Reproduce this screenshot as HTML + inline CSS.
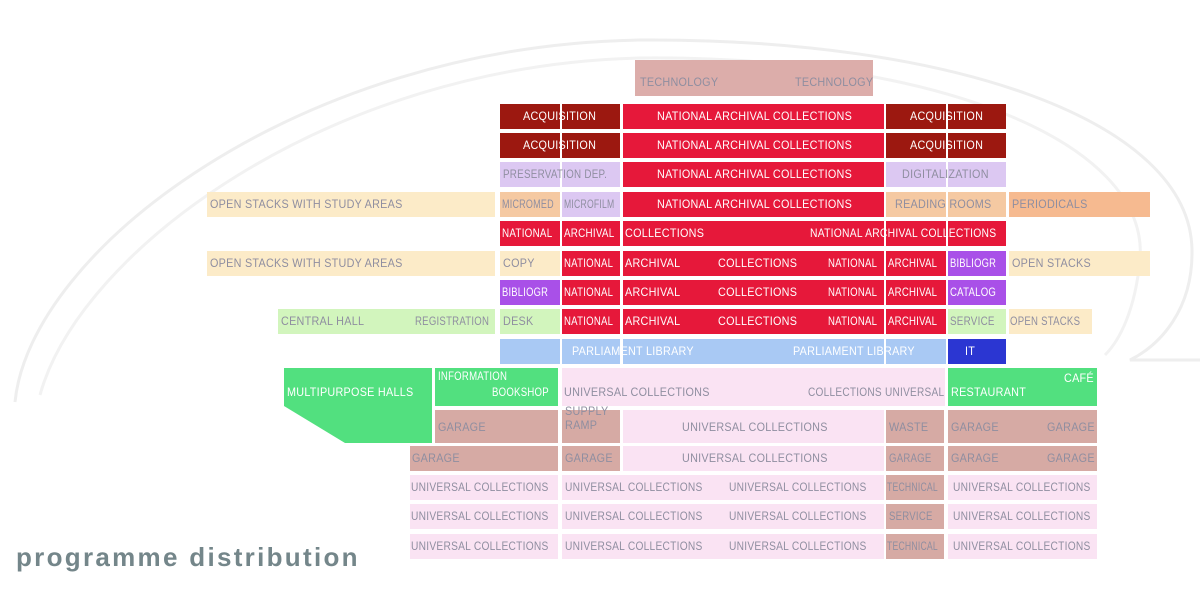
<!DOCTYPE html><html><head><meta charset="utf-8"><style>
body{margin:0;width:1200px;height:600px;background:#fff;position:relative;overflow:hidden;font-family:"Liberation Sans",sans-serif}
.b{position:absolute;height:25px}
.t{position:absolute;font-size:12px;line-height:25px;white-space:nowrap;color:#fff;transform:scaleX(0.9);transform-origin:left center;letter-spacing:0.3px}
.g{color:#8f8ea0}
.dr{background:#9c1810}.rd{background:#e6183a}.lv{background:#dcc8f2}.pc{background:#f5c9a2}.cr{background:#fcebc8}
.pu{background:#a950e8}.lg{background:#d2f5bd}.lb{background:#a9c9f4}.bl{background:#2b36d2}.gr{background:#52e07f}
.pk{background:#fae3f3}.ga{background:#d6aaa4}.or{background:#f6ba90}
</style></head><body>
<svg style="position:absolute;left:0;top:0" width="1200" height="600">
<path d="M15 402 C 30 250, 300 45, 640 40 C 950 38, 1190 120, 1192 250 C 1193 310, 1160 345, 1130 360 L1200 360" fill="none" stroke="#eeeeee" stroke-width="3"/>
<path d="M40 395 C 80 250, 330 65, 640 58 C 930 55, 1150 140, 1140 260 C 1135 310, 1120 340, 1105 355" fill="none" stroke="#f2f2f2" stroke-width="3"/>
<polygon points="284,368 432,368 432,443 345,443 284,406" fill="#52e07f"/>
</svg>
<div class="b" style="left:635px;top:60px;width:238px;height:36px;background:#dcadaa"></div>
<div class="t g" style="left:640px;top:70px">TECHNOLOGY</div><div class="t g" style="left:795px;top:70px">TECHNOLOGY</div>

<div class="b dr" style="left:500px;top:104px;width:60px"></div><div class="b dr" style="left:562px;top:104px;width:58px"></div>
<div class="b rd" style="left:623px;top:104px;width:261px"></div>
<div class="b dr" style="left:886px;top:104px;width:60px"></div><div class="b dr" style="left:948px;top:104px;width:58px"></div>
<div class="b dr" style="left:500px;top:133px;width:60px"></div><div class="b dr" style="left:562px;top:133px;width:58px"></div>
<div class="b rd" style="left:623px;top:133px;width:261px"></div>
<div class="b dr" style="left:886px;top:133px;width:60px"></div><div class="b dr" style="left:948px;top:133px;width:58px"></div>
<div class="t" style="left:523px;top:104px">ACQUISITION</div><div class="t" style="left:657px;top:104px">NATIONAL ARCHIVAL COLLECTIONS</div><div class="t" style="left:910px;top:104px">ACQUISITION</div>
<div class="t" style="left:523px;top:133px">ACQUISITION</div><div class="t" style="left:657px;top:133px">NATIONAL ARCHIVAL COLLECTIONS</div><div class="t" style="left:910px;top:133px">ACQUISITION</div>

<div class="b lv" style="left:500px;top:162px;width:60px"></div><div class="b lv" style="left:562px;top:162px;width:58px"></div>
<div class="b rd" style="left:623px;top:162px;width:261px"></div>
<div class="b lv" style="left:886px;top:162px;width:60px"></div><div class="b lv" style="left:948px;top:162px;width:58px"></div>
<div class="t g" style="left:503px;top:162px;transform:scaleX(0.82)">PRESERVATION DEP.</div><div class="t" style="left:657px;top:162px">NATIONAL ARCHIVAL COLLECTIONS</div><div class="t g" style="left:902px;top:162px">DIGITALIZATION</div>

<div class="b cr" style="left:207px;top:192px;width:288px"></div>
<div class="b pc" style="left:500px;top:192px;width:60px"></div><div class="b lv" style="left:562px;top:192px;width:58px"></div>
<div class="b rd" style="left:623px;top:192px;width:261px"></div>
<div class="b pc" style="left:886px;top:192px;width:60px"></div><div class="b pc" style="left:948px;top:192px;width:58px"></div>
<div class="b or" style="left:1009px;top:192px;width:141px"></div>
<div class="t g" style="left:210px;top:192px">OPEN STACKS WITH STUDY AREAS</div><div class="t g" style="left:502px;top:192px;transform:scaleX(0.75)">MICROMED</div><div class="t g" style="left:564px;top:192px;transform:scaleX(0.72)">MICROFILM</div>
<div class="t" style="left:657px;top:192px">NATIONAL ARCHIVAL COLLECTIONS</div><div class="t g" style="left:895px;top:192px">READING ROOMS</div><div class="t g" style="left:1012px;top:192px">PERIODICALS</div>

<div class="b rd" style="left:500px;top:221px;width:60px"></div><div class="b rd" style="left:562px;top:221px;width:58px"></div>
<div class="b rd" style="left:623px;top:221px;width:261px"></div>
<div class="b rd" style="left:886px;top:221px;width:60px"></div><div class="b rd" style="left:948px;top:221px;width:58px"></div>
<div class="t" style="left:502px;top:221px;transform:scaleX(0.82)">NATIONAL</div><div class="t" style="left:564px;top:221px;transform:scaleX(0.82)">ARCHIVAL</div><div class="t" style="left:625px;top:221px">COLLECTIONS</div>
<div class="t" style="left:810px;top:221px;transform:scaleX(0.86)">NATIONAL ARCHIVAL COLLECTIONS</div>

<div class="b cr" style="left:207px;top:251px;width:288px"></div>
<div class="b cr" style="left:500px;top:251px;width:60px"></div>
<div class="b pu" style="left:500px;top:280px;width:60px"></div>
<div class="b lg" style="left:278px;top:309px;width:217px"></div>
<div class="b lg" style="left:500px;top:309px;width:60px"></div>
<div class="b rd" style="left:562px;top:251px;width:58px"></div><div class="b rd" style="left:623px;top:251px;width:261px"></div><div class="b rd" style="left:886px;top:251px;width:60px"></div>
<div class="b rd" style="left:562px;top:280px;width:58px"></div><div class="b rd" style="left:623px;top:280px;width:261px"></div><div class="b rd" style="left:886px;top:280px;width:60px"></div>
<div class="b rd" style="left:562px;top:309px;width:58px"></div><div class="b rd" style="left:623px;top:309px;width:261px"></div><div class="b rd" style="left:886px;top:309px;width:60px"></div>
<div class="b pu" style="left:948px;top:251px;width:58px"></div><div class="b pu" style="left:948px;top:280px;width:58px"></div><div class="b lg" style="left:948px;top:309px;width:58px"></div>
<div class="b cr" style="left:1009px;top:251px;width:141px"></div><div class="b cr" style="left:1009px;top:309px;width:83px"></div>
<div class="t g" style="left:210px;top:251px">OPEN STACKS WITH STUDY AREAS</div><div class="t g" style="left:503px;top:251px">COPY</div>
<div class="t" style="left:502px;top:280px;transform:scaleX(0.78)">BIBLIOGR</div>
<div class="t g" style="left:281px;top:309px">CENTRAL HALL</div><div class="t g" style="left:415px;top:309px;transform:scaleX(0.8)">REGISTRATION</div><div class="t g" style="left:503px;top:309px">DESK</div>
<div class="t" style="left:564px;top:251px;transform:scaleX(0.8)">NATIONAL</div><div class="t" style="left:625px;top:251px">ARCHIVAL</div><div class="t" style="left:718px;top:251px">COLLECTIONS</div><div class="t" style="left:828px;top:251px;transform:scaleX(0.8)">NATIONAL</div><div class="t" style="left:888px;top:251px;transform:scaleX(0.8)">ARCHIVAL</div>
<div class="t" style="left:564px;top:280px;transform:scaleX(0.8)">NATIONAL</div><div class="t" style="left:625px;top:280px">ARCHIVAL</div><div class="t" style="left:718px;top:280px">COLLECTIONS</div><div class="t" style="left:828px;top:280px;transform:scaleX(0.8)">NATIONAL</div><div class="t" style="left:888px;top:280px;transform:scaleX(0.8)">ARCHIVAL</div>
<div class="t" style="left:564px;top:309px;transform:scaleX(0.8)">NATIONAL</div><div class="t" style="left:625px;top:309px">ARCHIVAL</div><div class="t" style="left:718px;top:309px">COLLECTIONS</div><div class="t" style="left:828px;top:309px;transform:scaleX(0.8)">NATIONAL</div><div class="t" style="left:888px;top:309px;transform:scaleX(0.8)">ARCHIVAL</div>
<div class="t" style="left:950px;top:251px;transform:scaleX(0.78)">BIBLIOGR</div><div class="t" style="left:950px;top:280px;transform:scaleX(0.8)">CATALOG</div><div class="t g" style="left:950px;top:309px;transform:scaleX(0.82)">SERVICE</div>
<div class="t g" style="left:1012px;top:251px">OPEN STACKS</div><div class="t g" style="left:1010px;top:309px;transform:scaleX(0.8)">OPEN STACKS</div>

<div class="b lb" style="left:500px;top:339px;width:60px"></div><div class="b lb" style="left:562px;top:339px;width:58px"></div>
<div class="b lb" style="left:623px;top:339px;width:261px"></div><div class="b lb" style="left:886px;top:339px;width:60px"></div>
<div class="b bl" style="left:948px;top:339px;width:58px"></div>
<div class="t" style="left:572px;top:339px">PARLIAMENT LIBRARY</div><div class="t" style="left:793px;top:339px">PARLIAMENT LIBRARY</div><div class="t" style="left:965px;top:339px">IT</div>

<div class="b gr" style="left:435px;top:368px;width:123px;height:38px"></div>
<div class="b pk" style="left:562px;top:368px;width:383px;height:38px"></div>
<div class="b gr" style="left:948px;top:368px;width:149px;height:38px"></div>
<div class="t" style="left:287px;top:380px">MULTIPURPOSE HALLS</div>
<div class="t" style="left:438px;top:364px;transform:scaleX(0.8)">INFORMATION</div><div class="t" style="left:492px;top:380px;transform:scaleX(0.8)">BOOKSHOP</div>
<div class="t g" style="left:564px;top:380px">UNIVERSAL COLLECTIONS</div><div class="t g" style="left:808px;top:380px;transform:scaleX(0.84)">COLLECTIONS UNIVERSAL</div>
<div class="t" style="left:951px;top:380px">RESTAURANT</div><div class="t" style="left:1064px;top:366px">CAFÉ</div>

<div class="b ga" style="left:435px;top:410px;width:123px;height:33px"></div>
<div class="b ga" style="left:562px;top:410px;width:58px;height:33px"></div>
<div class="b pk" style="left:623px;top:410px;width:261px;height:33px"></div>
<div class="b ga" style="left:886px;top:410px;width:58px;height:33px"></div>
<div class="b ga" style="left:948px;top:410px;width:149px;height:33px"></div>
<div class="t g" style="left:438px;top:415px">GARAGE</div><div class="t g" style="left:565px;top:404px;line-height:14px">SUPPLY<br>RAMP</div>
<div class="t g" style="left:682px;top:415px">UNIVERSAL COLLECTIONS</div><div class="t g" style="left:889px;top:415px">WASTE</div>
<div class="t g" style="left:951px;top:415px">GARAGE</div><div class="t g" style="left:1047px;top:415px">GARAGE</div>

<div class="b ga" style="left:410px;top:446px;width:148px"></div><div class="b ga" style="left:562px;top:446px;width:58px"></div>
<div class="b pk" style="left:623px;top:446px;width:261px"></div><div class="b ga" style="left:886px;top:446px;width:58px"></div>
<div class="b ga" style="left:948px;top:446px;width:149px"></div>
<div class="t g" style="left:412px;top:446px">GARAGE</div><div class="t g" style="left:565px;top:446px">GARAGE</div><div class="t g" style="left:682px;top:446px">UNIVERSAL COLLECTIONS</div>
<div class="t g" style="left:889px;top:446px;transform:scaleX(0.8)">GARAGE</div><div class="t g" style="left:951px;top:446px">GARAGE</div><div class="t g" style="left:1047px;top:446px">GARAGE</div>

<div class="b pk" style="left:410px;top:475px;width:148px"></div><div class="b pk" style="left:562px;top:475px;width:322px"></div><div class="b ga" style="left:886px;top:475px;width:58px"></div><div class="b pk" style="left:948px;top:475px;width:149px"></div>
<div class="b pk" style="left:410px;top:504px;width:148px"></div><div class="b pk" style="left:562px;top:504px;width:322px"></div><div class="b ga" style="left:886px;top:504px;width:58px"></div><div class="b pk" style="left:948px;top:504px;width:149px"></div>
<div class="b pk" style="left:410px;top:534px;width:148px"></div><div class="b pk" style="left:562px;top:534px;width:322px"></div><div class="b ga" style="left:886px;top:534px;width:58px"></div><div class="b pk" style="left:948px;top:534px;width:149px"></div>
<div class="t g" style="left:411px;top:475px;transform:scaleX(0.85)">UNIVERSAL COLLECTIONS</div><div class="t g" style="left:565px;top:475px;transform:scaleX(0.85)">UNIVERSAL COLLECTIONS</div><div class="t g" style="left:729px;top:475px;transform:scaleX(0.85)">UNIVERSAL COLLECTIONS</div><div class="t g" style="left:887px;top:475px;transform:scaleX(0.72)">TECHNICAL</div><div class="t g" style="left:953px;top:475px;transform:scaleX(0.85)">UNIVERSAL COLLECTIONS</div>
<div class="t g" style="left:411px;top:504px;transform:scaleX(0.85)">UNIVERSAL COLLECTIONS</div><div class="t g" style="left:565px;top:504px;transform:scaleX(0.85)">UNIVERSAL COLLECTIONS</div><div class="t g" style="left:729px;top:504px;transform:scaleX(0.85)">UNIVERSAL COLLECTIONS</div><div class="t g" style="left:889px;top:504px;transform:scaleX(0.8)">SERVICE</div><div class="t g" style="left:953px;top:504px;transform:scaleX(0.85)">UNIVERSAL COLLECTIONS</div>
<div class="t g" style="left:411px;top:534px;transform:scaleX(0.85)">UNIVERSAL COLLECTIONS</div><div class="t g" style="left:565px;top:534px;transform:scaleX(0.85)">UNIVERSAL COLLECTIONS</div><div class="t g" style="left:729px;top:534px;transform:scaleX(0.85)">UNIVERSAL COLLECTIONS</div><div class="t g" style="left:887px;top:534px;transform:scaleX(0.72)">TECHNICAL</div><div class="t g" style="left:953px;top:534px;transform:scaleX(0.85)">UNIVERSAL COLLECTIONS</div>
<div style="position:absolute;left:16px;top:542px;font-size:26px;color:#74868a;font-weight:bold;letter-spacing:2.3px">programme distribution</div>
</body></html>
